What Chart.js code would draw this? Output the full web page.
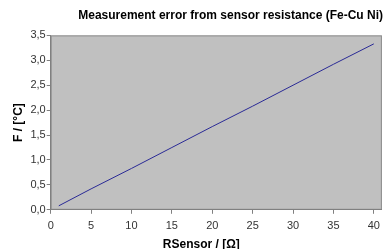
<!DOCTYPE html>
<html><head><meta charset="utf-8">
<script src="https://cdn.jsdelivr.net/npm/chart.js@4/dist/chart.umd.min.js"></script>
<style>html,body{margin:0;padding:0;background:#fff}#wrap{width:386px;height:249px}</style>
</head><body><div id="wrap"><canvas id="c"></canvas></div>
<script>
const rSensor = [1, 5, 10, 15, 20, 25, 30, 35, 40];
const errorF = [0.08, 0.42, 0.83, 1.25, 1.67, 2.08, 2.50, 2.92, 3.33];
const xTicks = [0, 5, 10, 15, 20, 25, 30, 35, 40];
const yTicks = [0, 0.5, 1.0, 1.5, 2.0, 2.5, 3.0, 3.5];
const titleText = 'Measurement error from sensor resistance (Fe-Cu Ni)';
const xTitle = 'RSensor / [Ω]';
const yTitle = 'F / [°C]';

const plotBg = {
  id: 'plotBg',
  beforeDraw(chart) {
    const {ctx, chartArea: a} = chart;
    ctx.save();
    ctx.fillStyle = '#c0c0c0';
    ctx.fillRect(a.left, a.top, a.right - a.left, a.bottom - a.top);
    ctx.strokeStyle = '#8c8c8c';
    ctx.lineWidth = 1;
    ctx.strokeRect(a.left + 0.5, a.top + 0.5, a.right - a.left - 1, a.bottom - a.top - 1);
    ctx.restore();
  }
};

new Chart(document.getElementById('c'), {
  type: 'scatter',
  data: {
    datasets: [{
      data: rSensor.map((x, i) => ({x, y: errorF[i]})),
      showLine: true,
      borderColor: '#2a2a96',
      borderWidth: 1,
      pointRadius: 0,
      tension: 0
    }]
  },
  options: {
    responsive: true,
    maintainAspectRatio: false,
    animation: false,
    layout: {padding: {left: 11, right: 3, top: 0, bottom: -2}},
    plugins: {
      legend: {display: false},
      tooltip: {enabled: false},
      title: {
        display: true, text: titleText, align: 'end',
        color: '#000', font: {family: 'Liberation Sans', size: 12, weight: 'bold'},
        padding: {top: 8, bottom: 13}
      }
    },
    scales: {
      x: {
        type: 'linear', min: 0, max: 41,
        afterBuildTicks(s) { s.ticks = xTicks.map(v => ({value: v})); },
        ticks: {color: '#333', font: {family: 'Liberation Sans', size: 11}, padding: 6, maxRotation: 0,
          callback: v => String(v)},
        grid: {drawOnChartArea: false, drawTicks: true, tickLength: 4, color: '#808080'},
        border: {color: '#808080'},
        title: {display: true, text: xTitle + '\u00a0\u00a0\u00a0\u00a0\u00a0\u00a0\u00a0\u00a0\u00a0', color: '#000', font: {family: 'Liberation Sans', size: 12, weight: 'bold', lineHeight: 1}, padding: {top: 0, bottom: 0}}
      },
      y: {
        type: 'linear', min: 0, max: 3.5,
        afterBuildTicks(s) { s.ticks = yTicks.map(v => ({value: v})); },
        ticks: {color: '#333', font: {family: 'Liberation Sans', size: 11}, padding: 1,
          callback: v => v.toFixed(1).replace('.', ',')},
        grid: {drawOnChartArea: false, drawTicks: true, tickLength: 4, color: '#808080'},
        border: {color: '#808080'},
        title: {display: true, text: yTitle, color: '#000', font: {family: 'Liberation Sans', size: 12, weight: 'bold'}, padding: {top: 0, bottom: 4}}
      }
    }
  },
  plugins: [plotBg]
});
</script></body></html>
